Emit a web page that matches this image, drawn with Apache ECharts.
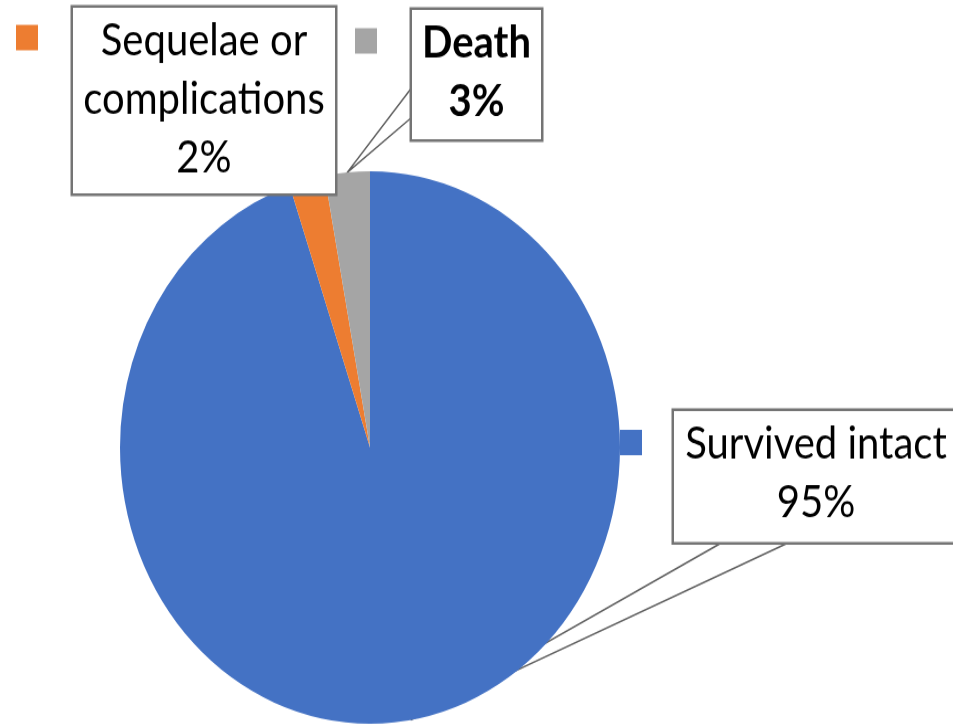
<!DOCTYPE html>
<html>
<head>
<meta charset="utf-8">
<script src="https://cdn.jsdelivr.net/npm/echarts@6/dist/echarts.min.js"></script>
<style>
  html, body { margin: 0; padding: 0; background: #fff; }
  #wrap { width: 953px; height: 727px; overflow: hidden; }
  /* the source picture is stretched vertically, so the chart is too */
  #main { width: 953px; height: 658px; transform: scaleY(1.1049); transform-origin: 0 0; }
</style>
</head>
<body>
<div id="wrap"><div id="main"></div></div>
<script>
const categories = ["Survived intact", "Sequelae or complications", "Death"];
const labelNames = ["Survived intact", "Sequelae or\ncomplications", "Death"];
const values = [94.8, 2.3, 2.9];
const colors = ["#4472C4", "#ED7D31", "#A5A5A5"];

const pieCenter = [370, 405];
const pieRadius = 250;

// label boxes: [centre x, top y], width, padding
const labelPos = [[816, 372], [204, 7], [476.5, 9]];
const labelWidth = [284, 262, 129];
const labelPad = [[4, 0, 8.5, 0], [3.5, 0, 5.5, 0], [4, 0, 7, 0]];
// callout wedge: which side of the box it leaves and where (offsets along that side)
const wedge = [{ side: "bottom", at: [49, 116] }, null, { side: "left", at: [70, 97] }];
// legend key placement: [left, top]
const keyPos = [[620, 389], [16, 22.5], [355, 25.5]];

// mid angle of every slice, clockwise from 12 o'clock
const total = values.reduce((a, b) => a + b, 0);
let acc = 0;
const midAngles = values.map((v) => {
  const a = ((acc + v / 2) / total) * Math.PI * 2;
  acc += v;
  return a;
});

const chart = echarts.init(document.getElementById("main"));

const legends = categories.map((name, i) => ({
  data: [name],
  left: keyPos[i][0],
  top: keyPos[i][1],
  padding: 0,
  icon: "rect",
  itemWidth: 22,
  itemHeight: 23,
  selectedMode: false,
  formatter: () => "",
  textStyle: { fontSize: 1 },
}));

chart.setOption({
  animation: false,
  color: colors,
  legend: legends,
  series: [
    {
      type: "pie",
      center: pieCenter,
      radius: pieRadius,
      startAngle: 90,
      clockwise: true,
      percentPrecision: 0,
      itemStyle: { borderWidth: 0 },
      emphasis: { disabled: true },
      data: categories.map((name, i) => ({
        name: name,
        value: values[i],
        labelLine: { show: wedge[i] !== null },
        label: {
          width: labelWidth[i],
          padding: labelPad[i],
          fontWeight: i === 2 ? "bold" : "normal",
        },
      })),
      label: {
        show: true,
        formatter: (p) => labelNames[p.dataIndex] + "\n" + p.percent + "%",
        fontFamily: "Lato",
        fontSize: 40,
        lineHeight: 53,
        color: "#000",
        align: "center",
        backgroundColor: "#fff",
        borderColor: "#747474",
        borderWidth: 2.5,
      },
      labelLine: {
        show: true,
        lineStyle: { color: "#5f5f5f", width: 1.5 },
      },
      labelLayout: (params) => {
        const i = params.dataIndex;
        const p = labelPos[i];
        const out = { x: p[0], y: p[1], align: "center", verticalAlign: "top" };
        const w = wedge[i];
        if (w) {
          const a = midAngles[i];
          const tip = [pieCenter[0] + pieRadius * Math.sin(a), pieCenter[1] - pieRadius * Math.cos(a)];
          const left = p[0] - labelWidth[i] / 2;
          const pad = labelPad[i];
          const bottom = p[1] + pad[0] + pad[2] + 53 * 2;
          let b1, b2;
          if (w.side === "bottom") {
            b1 = [left + w.at[0], bottom];
            b2 = [left + w.at[1], bottom];
          } else {
            b1 = [left, p[1] + w.at[0]];
            b2 = [left, p[1] + w.at[1]];
          }
          out.labelLinePoints = [b1, tip, b2];
        }
        return out;
      },
    },
  ],
});
</script>
</body>
</html>
